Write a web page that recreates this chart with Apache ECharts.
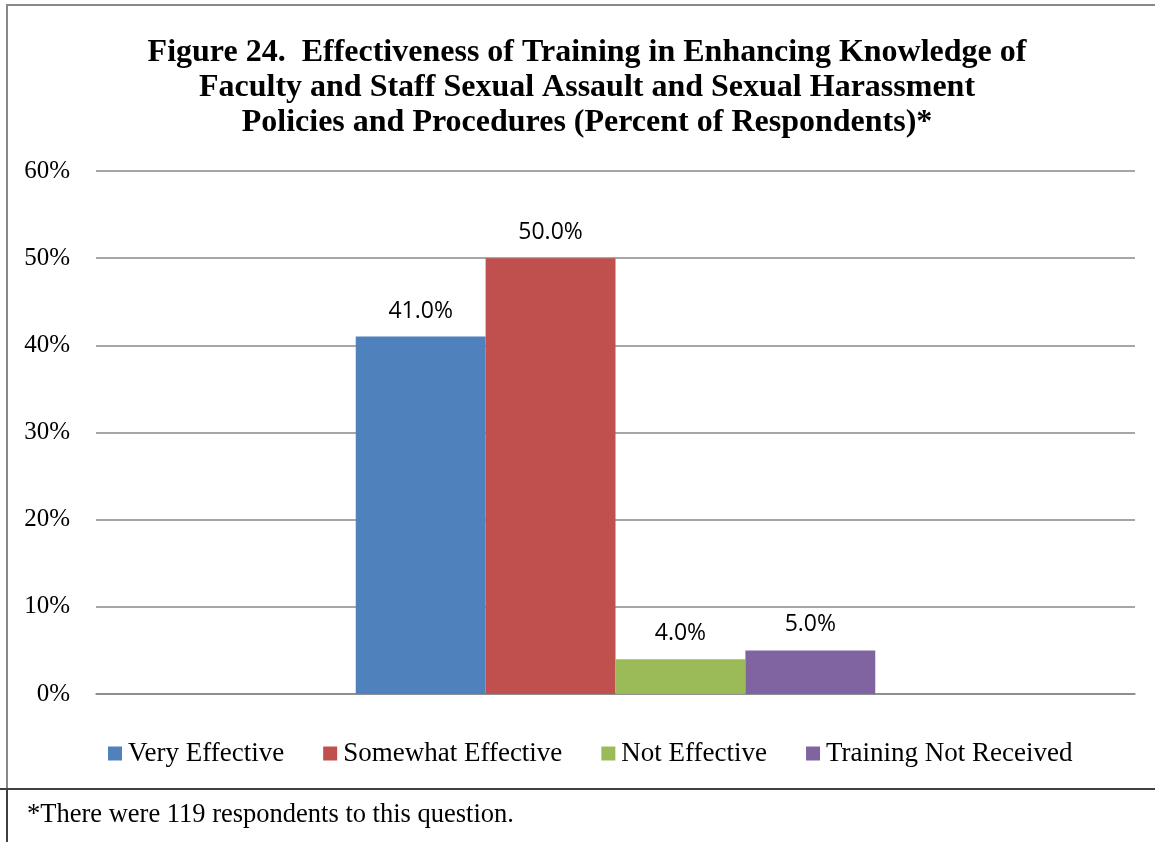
<!DOCTYPE html>
<html><head><meta charset="utf-8">
<script src="https://cdn.jsdelivr.net/npm/echarts@6/dist/echarts.min.js"></script>
<style>html,body{margin:0;padding:0;background:#fff}#c{width:1155px;height:842px}</style>
</head><body><div id="c"></div>
<script>
const categories = [''];
const seriesNames = ['Very Effective', 'Somewhat Effective', 'Not Effective', 'Training Not Received'];
const veryEffective = [41.0];
const somewhatEffective = [50.0];
const notEffective = [4.0];
const trainingNotReceived = [5.0];
const colors = ['#4F81BD', '#C0504D', '#9BBB59', '#8064A2'];
const values = [veryEffective, somewhatEffective, notEffective, trainingNotReceived];

const chart = echarts.init(document.getElementById('c'));
chart.setOption({
  animation: false,
  title: {
    text: 'Figure 24.  Effectiveness of Training in Enhancing Knowledge of\nFaculty and Staff Sexual Assault and Sexual Harassment\nPolicies and Procedures (Percent of Respondents)*',
    left: 582, top: 30, textAlign: 'center',
    textStyle: { fontFamily: 'Liberation Serif', fontWeight: 'bold', fontSize: 32, lineHeight: 35, color: '#000' }
  },
  graphic: [
    { type: 'rect', shape: { x: 7, y: 5, width: 1160, height: 784 }, style: { fill: 'none', stroke: '#888', lineWidth: 2 }, silent: true },
    { type: 'line', shape: { x1: 0, y1: 789, x2: 1155, y2: 789 }, style: { stroke: '#404040', lineWidth: 2 } },
    { type: 'line', shape: { x1: 7, y1: 789, x2: 7, y2: 842 }, style: { stroke: '#404040', lineWidth: 2 } },
    { type: 'text', left: 27, top: 802, style: { text: '*There were 119 respondents to this question.', font: '26.5px "Liberation Serif"', fill: '#000' } }
  ],
  legend: {
    data: seriesNames, top: 735, left: 103,
    itemWidth: 14, itemHeight: 14, itemGap: 39, icon: 'rect',
    textStyle: { fontFamily: 'Liberation Serif', fontSize: 27, color: '#000', padding: [0, 0, 0, 1] }
  },
  grid: { left: 96, right: 20, top: 171, bottom: 148 },
  xAxis: {
    type: 'category', data: categories,
    axisLine: { lineStyle: { color: '#888', width: 1.5 } }, axisTick: { show: false }, axisLabel: { show: false }
  },
  yAxis: {
    type: 'value', min: 0, max: 60, interval: 10,
    axisLabel: { formatter: '{value}%', fontFamily: 'Liberation Serif', fontSize: 25, color: '#000', margin: 26 },
    splitLine: { lineStyle: { color: '#888', width: 1.5 } },
    axisLine: { show: false }, axisTick: { show: false }
  },
  series: seriesNames.map((n, i) => ({
    name: n, type: 'bar', data: values[i], barGap: '0%', barCategoryGap: '50%',
    itemStyle: { color: colors[i] },
    label: { show: true, position: 'top', distance: 14, formatter: p => p.value.toFixed(1) + '%',
      fontFamily: 'Open Sans', fontSize: 23, color: '#000' }
  }))
});
</script></body></html>
